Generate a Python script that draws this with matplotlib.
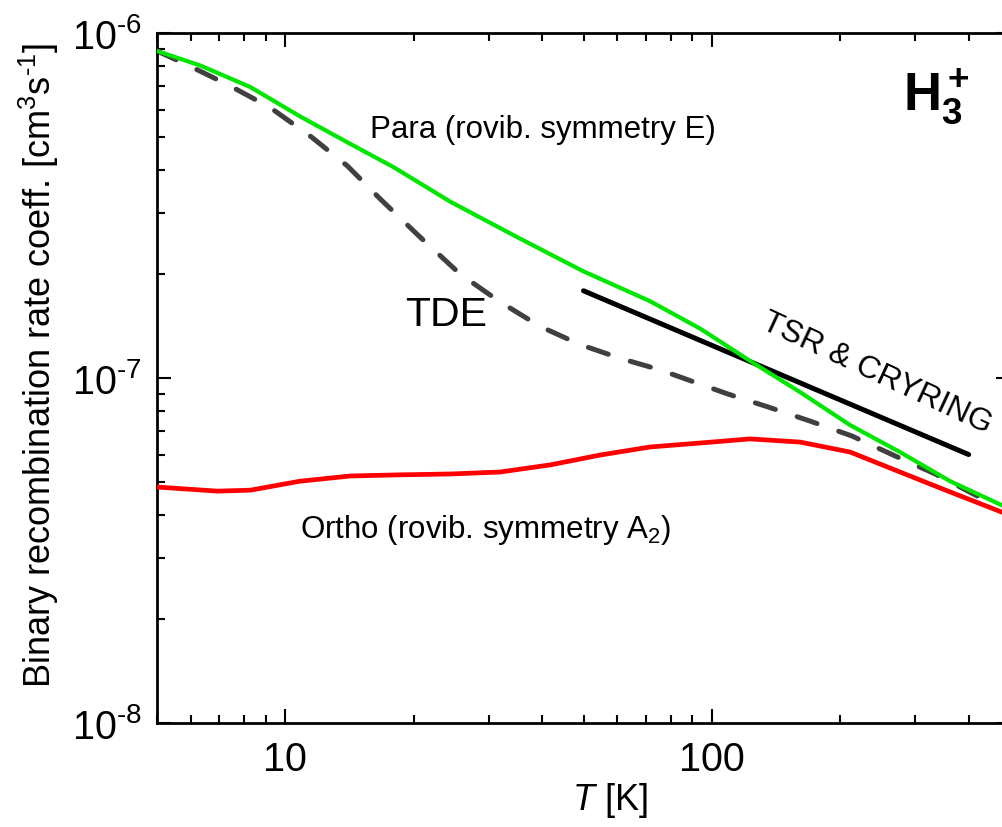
import numpy as np
import matplotlib
matplotlib.use("Agg")
import matplotlib.pyplot as plt
from matplotlib.ticker import LogLocator, FixedLocator, FixedFormatter, NullFormatter

plt.rcParams['font.family'] = ['Liberation Sans', 'DejaVu Sans']
plt.rcParams['mathtext.fontset'] = 'custom'
plt.rcParams['mathtext.rm'] = 'Liberation Sans'
plt.rcParams['mathtext.it'] = 'Liberation Sans:italic'
plt.rcParams['mathtext.bf'] = 'Liberation Sans:bold'

# Para H3+ (rovibrational symmetry E)
para_T = [5.0, 6.33, 8.28, 10.8, 14.2, 17.9, 24.4, 35.6, 49.9, 71.6, 93.9,
          123, 161, 211, 276, 361, 500]
para_k = [8.87e-7, 8.04e-7, 6.97e-7, 5.74e-7, 4.77e-7, 4.09e-7, 3.24e-7,
          2.53e-7, 2.04e-7, 1.67e-7, 1.39e-7, 1.12e-7, 9.1e-8, 7.3e-8,
          6.1e-8, 5.03e-8, 4.17e-8]

# Ortho H3+ (rovibrational symmetry A2)
ortho_T = [5.0, 6.93, 8.28, 10.8, 14.2, 18.6, 24.4, 31.9, 41.8, 54.7, 71.6,
           93.9, 123, 161, 211, 276, 361, 500]
ortho_k = [4.83e-8, 4.70e-8, 4.73e-8, 5.02e-8, 5.2e-8, 5.24e-8, 5.27e-8,
           5.34e-8, 5.6e-8, 5.98e-8, 6.31e-8, 6.48e-8, 6.66e-8, 6.52e-8,
           6.1e-8, 5.34e-8, 4.68e-8, 4.0e-8]

# Thermal (TDE) rate coefficient
tde_T = [5.0, 5.83, 7.35, 9.23, 11.5, 14.0, 16.7, 20.7, 25.7, 31.9, 39.6,
         49.1, 61.0, 75.7, 108.6, 135.5, 170, 213, 266, 334, 419]
tde_k = [8.87e-7, 8.13e-7, 7.07e-7, 6.07e-7, 5.0e-7, 4.11e-7, 3.30e-7,
         2.56e-7, 2.0e-7, 1.66e-7, 1.41e-7, 1.25e-7, 1.14e-7, 1.055e-7,
         9.0e-8, 8.24e-8, 7.5e-8, 6.79e-8, 5.98e-8, 5.27e-8, 4.55e-8]

# Storage-ring measurements (TSR & CRYRING)
ring_T = [50, 400]
ring_k = [1.79e-7, 6.0e-8]

x_major = [10, 100]
x_major_labels = ["10", "100"]
y_major = [1e-8, 1e-7, 1e-6]
y_major_labels = [r"$10^{\text{-}8}$", r"$10^{\text{-}7}$", r"$10^{\text{-}6}$"]

fig = plt.figure(figsize=(10.02, 8.28), dpi=100)
ax = fig.add_axes([157 / 1002, 1 - 724 / 828, 853 / 1002, 690 / 828])

ax.plot(tde_T, tde_k, color='#404040', lw=3.6, dashes=(4.2, 4.6),
        solid_capstyle='round', dash_capstyle='round', zorder=2)
ax.plot(ring_T, ring_k, color='black', lw=3.6, solid_capstyle='round', zorder=3)
ax.plot(ortho_T, ortho_k, color='#ff0000', lw=3.4, zorder=4)
ax.plot(para_T, para_k, color='#00e600', lw=3.0, zorder=5)

ax.set_xscale('log')
ax.set_yscale('log')
ax.set_xlim(5, 500)
ax.set_ylim(1e-8, 1e-6)

ax.xaxis.set_major_locator(FixedLocator(x_major))
ax.xaxis.set_major_formatter(FixedFormatter(x_major_labels))
ax.xaxis.set_minor_locator(LogLocator(base=10, subs=np.arange(2, 10), numticks=20))
ax.xaxis.set_minor_formatter(NullFormatter())
ax.yaxis.set_major_locator(FixedLocator(y_major))
ax.yaxis.set_major_formatter(FixedFormatter(y_major_labels))
ax.yaxis.set_minor_locator(LogLocator(base=10, subs=np.arange(2, 10), numticks=20))
ax.yaxis.set_minor_formatter(NullFormatter())

ax.tick_params(which='both', direction='in', top=True, right=True,
               width=1.5, labelsize=28.5)
ax.tick_params(which='major', length=10, pad=12)
ax.tick_params(which='minor', length=5.5)
ax.tick_params(axis='y', which='major', pad=11)
for s in ax.spines.values():
    s.set_linewidth(2.0)

ax.set_xlabel(r"$T$ [K]", fontsize=26)
ax.xaxis.set_label_coords(0.531, -0.082)
ax.set_ylabel(r"Binary recombination rate coeff. [cm$^3$s$^{\text{-}1}$]", fontsize=26)
ax.yaxis.set_label_coords(-0.112, 0.52)

ax.text(15.8, 5.27e-7, "Para (rovib. symmetry E)", fontsize=22.5,
        ha='left', va='center')
ax.text(10.8, 3.65e-8, r"Ortho (rovib. symmetry A$_2$)", fontsize=22.5,
        ha='left', va='center')
ax.text(19.1, 1.535e-7, "TDE", fontsize=29.5, ha='left', va='center')
ax.text(243, 1.04e-7, "TSR & CRYRING", fontsize=23, ha='center', va='center',
        rotation=-25, rotation_mode='anchor')
ax.text(280, 6.0e-7, r"$\mathbf{H_3^+}$", fontsize=38, ha='left', va='baseline')

fig.savefig("out.png", dpi=100)
